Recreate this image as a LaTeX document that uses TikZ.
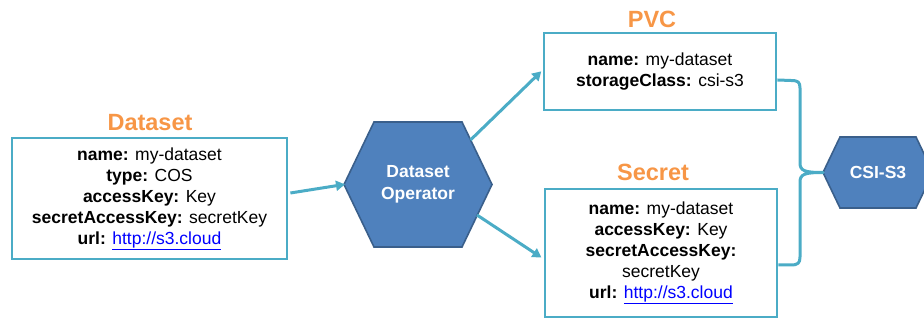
\documentclass[tikz,border=0pt]{standalone}
\usepackage{fontspec}
\setmainfont{Liberation Sans}
\usetikzlibrary{arrows.meta,calc}
\definecolor{teal}{HTML}{4BACC6}
\definecolor{hexfill}{HTML}{4F81BD}
\definecolor{hexline}{HTML}{3A5F8B}
\definecolor{orng}{HTML}{F79646}
\definecolor{lnk}{HTML}{0000FF}
\newcommand{\lnkurl}[1]{\textcolor{lnk}{\underline{#1}}}
\tikzset{
  box/.style={draw=teal, line width=2.8pt, fill=white, align=center, inner sep=0pt,
    font=\fontsize{17.5}{21}\selectfont},
  ttl/.style={text=orng, font=\fontsize{23.5}{28}\selectfont\bfseries, anchor=base, inner sep=0pt},
  hexa/.style={fill=hexfill, draw=hexline, line width=1.6pt, line join=miter},
  hextxt/.style={text=white, align=center, font=\fontsize{17.5}{21.5}\selectfont\bfseries, inner sep=0pt},
  link/.style={draw=teal, line width=3pt},
  arr/.style={link, -{Triangle[length=9pt,width=10pt]}, shorten >=-1pt}
}
\begin{document}
\begin{tikzpicture}[x=1pt,y=-1pt]
\useasboundingbox (0,0) rectangle (924,320);
\begin{scope}
\clip (0,0) rectangle (924,320);
% boxes
\node[box, minimum width=275pt, minimum height=121pt] (ds) at (149.5,198.5)
  {\textbf{name:} my-dataset\\ \textbf{type:} COS\\ \textbf{accessKey:} Key\\
   \textbf{secretAccessKey:} secretKey\\ \textbf{url:} \lnkurl{http://s3.cloud}};
\node[box, minimum width=232pt, minimum height=77pt] (pvc) at (660,71.5)
  {\textbf{name:} my-dataset\\ \textbf{storageClass:} csi-s3};
\node[box, minimum width=232pt, minimum height=128pt] (sec) at (661,253)
  {\textbf{name:} my-dataset\\ \textbf{accessKey:} Key\\ \textbf{secretAccessKey:}\\
   secretKey\\ \textbf{url:} \lnkurl{http://s3.cloud}};
% titles
\node[ttl] (tds) at (150,131) {Dataset};
\node[ttl] (tpvc) at (652,28) {PVC};
\node[ttl] (tsec) at (653,181) {Secret};
% operator hexagon
\draw[hexa] (344,184.5) coordinate (opw) -- (374,122) -- (462,122) -- (492,184.5) -- (462,247) -- (374,247) -- cycle;
\coordinate (opne) at (470.5,140);
\coordinate (opse) at (477,215);
\node[hextxt] (op) at (418,184.5) {Dataset\\Operator};
% csi hexagon
\draw[hexa] (823,172.5) coordinate (csiw) -- (840,137) -- (916,137) -- (933,172.5) -- (916,208) -- (840,208) -- cycle;
\node[hextxt] (csi) at (878,172.5) {CSI-S3};
% arrows
\draw[arr] ($(ds.east)+(2,-5.5)$) -- (opw);
\draw[arr] (opne) -- ($(pvc.west)+(-2,0.5)$);
\draw[arr] (opse) -- ($(sec.west)+(-3,4)$);
% brace
\draw[link, line join=round] ($(pvc.east)+(0,8.5)$) -- (791,80.5) .. controls (798,80.5) and (800,82) .. (800,88)
  -- (800,163) .. controls (800,171) and (805,172.5) .. (csiw)
  .. controls (805,172.5) and (800,174) .. (800,182)
  -- (800,257) .. controls (800,263) and (798,265) .. (791,265) -- ($(sec.east)+(0,12)$);
\end{scope}
\end{tikzpicture}
\end{document}
